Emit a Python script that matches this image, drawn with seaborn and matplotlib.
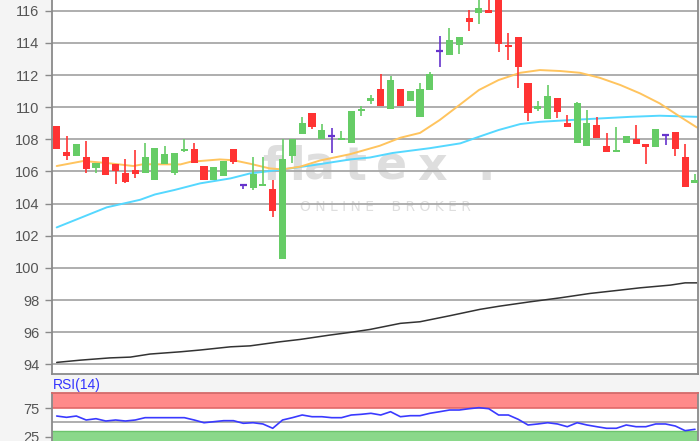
import numpy as np
import pandas as pd
import matplotlib
matplotlib.use("Agg")
import matplotlib.pyplot as plt
import seaborn as sns

sns.set_style("white")
plt.rcParams['font.family'] = ['Liberation Sans', 'DejaVu Sans']

# ------------------------------------------------------------------
# data (66 daily candles)
# ------------------------------------------------------------------
opens = [108.8, 107.22, 106.98, 106.9, 106.23, 106.9, 106.45, 105.9, 106.09, 105.9,
         105.5, 106.46, 105.9, 107.3, 107.4, 106.35, 105.5, 105.7, 107.4, 105.15,
         105.0, 105.1, 104.89, 100.53, 106.96, 108.33, 109.65, 108.0, 108.2, 107.96,
         107.75, 109.76, 110.4, 111.11, 109.86, 111.11, 110.4, 109.37, 111.07, 113.51,
         113.24, 113.87, 115.53, 115.88, 116.04, 117.0, 113.87, 114.34, 111.52, 109.86,
         109.24, 110.55, 109.03, 107.75, 107.6, 108.87, 107.58, 107.23, 107.75, 108.0,
         107.71, 107.54, 108.27, 108.43, 106.9, 105.3]
highs = [108.8, 108.2, 107.7, 107.9, 106.5, 106.9, 106.45, 106.75, 107.33, 107.79,
         107.47, 107.58, 107.13, 108.0, 107.79, 106.35, 106.25, 106.67, 107.4, 105.15,
         106.9, 106.9, 105.46, 108.0, 108.0, 109.37, 109.65, 108.95, 108.68, 108.53,
         109.76, 110.07, 110.75, 112.06, 111.94, 111.11, 111.02, 111.52, 112.2, 114.43,
         114.9, 114.38, 116.04, 116.9, 116.9, 117.0, 114.6, 114.34, 111.52, 110.4,
         111.38, 110.55, 109.51, 110.3, 109.82, 109.4, 108.37, 108.78, 108.2, 108.89,
         107.71, 108.62, 108.27, 108.43, 107.71, 105.84]
lows = [107.4, 106.7, 106.98, 105.9, 105.9, 105.75, 105.2, 105.26, 105.57, 105.9,
        105.5, 106.46, 105.75, 107.23, 106.55, 105.5, 105.5, 105.7, 106.46, 104.89,
        104.84, 105.1, 103.14, 100.53, 106.55, 108.33, 108.62, 108.0, 107.13, 107.96,
        107.75, 109.45, 110.19, 110.07, 109.86, 110.07, 110.4, 109.37, 111.07, 112.52,
        113.24, 113.3, 114.75, 115.2, 115.84, 113.45, 112.93, 111.17, 109.16, 109.78,
        109.24, 109.3, 108.74, 107.75, 107.6, 108.06, 107.19, 107.2, 107.75, 107.69,
        106.46, 107.54, 107.65, 106.96, 105.05, 105.3]
closes = [107.4, 106.98, 107.7, 106.15, 106.5, 105.8, 106.03, 105.36, 105.84, 106.9,
          107.47, 107.08, 107.13, 107.37, 106.55, 105.5, 106.25, 106.67, 106.6, 105.15,
          105.84, 105.15, 103.55, 106.75, 108.0, 109.0, 108.78, 108.58, 108.2, 108.06,
          109.76, 109.86, 110.55, 110.07, 111.69, 110.07, 111.02, 111.11, 112.06, 113.51,
          114.18, 114.38, 115.32, 116.2, 115.84, 113.96, 113.72, 112.51, 109.62, 110.07,
          110.69, 109.71, 108.74, 110.24, 109.03, 108.06, 107.19, 107.33, 108.2, 107.69,
          107.54, 108.62, 108.27, 107.37, 105.05, 105.46]

# moving averages, read at (candle index, value) points
ma_fast_x = [0, 2.7, 3.7, 5.5, 7.8, 8.8, 12.6, 13.6, 16.6, 18, 19.7, 21.7, 23, 24.8,
             26.8, 29.9, 32.9, 35, 37, 39, 41, 43, 45, 47.2, 49.2, 51.3, 53.3, 55.3,
             57.4, 59.4, 61.4, 63.5, 65.2]
ma_fast = [106.34, 106.65, 106.6, 106.5, 106.34, 106.45, 106.44, 106.6, 106.75, 106.7,
           106.48, 106.19, 106.13, 106.3, 106.68, 107.08, 107.6, 108.1, 108.4, 109.2,
           110.13, 111.07, 111.69, 112.14, 112.31, 112.25, 112.14, 111.83, 111.38,
           110.86, 110.24, 109.4, 108.74]
ma_mid_x = [0, 5.1, 8.5, 10, 12, 14.6, 17.7, 19.7, 22.7, 26.2, 29.9, 31.9, 34.2, 38,
            41.1, 43, 45, 47.2, 49.2, 52.3, 55.3, 58.4, 61.4, 65.2]
ma_mid = [102.52, 103.77, 104.24, 104.57, 104.85, 105.26, 105.57, 105.88, 106.1, 106.4,
          106.75, 106.87, 107.15, 107.45, 107.75, 108.16, 108.58, 108.95, 109.09,
          109.2, 109.3, 109.4, 109.47, 109.4]
ma_slow_x = [0, 2.4, 5.4, 7.5, 9.5, 12.6, 14.6, 17.7, 19.7, 22.7, 24.8, 27.8, 29.9,
             31.9, 35, 37, 40, 43.1, 45.1, 48.2, 51.3, 54.3, 57.4, 59.4, 62.5, 64, 65.2]
ma_slow = [94.12, 94.26, 94.4, 94.45, 94.64, 94.78, 94.89, 95.09, 95.15, 95.4, 95.55,
           95.82, 95.99, 96.17, 96.55, 96.65, 97.02, 97.42, 97.62, 97.89, 98.14, 98.41,
           98.62, 98.76, 98.93, 99.07, 99.07]

rsi = [61.4, 59.1, 61.4, 54.4, 56.7, 52.6, 54.4, 52.6, 54.4, 58.5,
       58.5, 58.5, 58.5, 58.5, 54.4, 49.6, 51.4, 53.2, 53.2, 48.6,
       49.6, 47.4, 39.8, 54.4, 58.5, 63.2, 60.2, 60.2, 58.5, 58.5,
       63.2, 64.4, 66.2, 63.2, 69.0, 60.2, 62.0, 62.0, 66.2, 69.0,
       72.0, 72.0, 74.3, 76.1, 74.3, 63.2, 63.2, 55.6, 45.6, 47.4,
       49.6, 47.4, 42.6, 49.6, 45.6, 42.6, 39.8, 39.8, 45.6, 42.6,
       42.6, 47.4, 47.4, 43.8, 35.6, 38.0]

price_ticks = [94, 96, 98, 100, 102, 104, 106, 108, 110, 112, 114, 116]
rsi_ticks = [25, 75]
rsi_upper = 75
rsi_lower = 35

logo_letters = ['f', 'l', 'a', 't', 'e', 'x', '.']

# ------------------------------------------------------------------
UP, DOWN, DOJI = '#66cc66', '#ff3333', '#6633cc'
GRID = '#a8a8a8'
FRAME = '#8a8a8a'
TICKC = '#555555'
WM = '#dedede'

fig = plt.figure(figsize=(7, 4.41), dpi=100)
fig.patch.set_facecolor('#f4f4f4')

W, H = 700, 441
pos_main = [51.7 / W, (H - 374.3) / H, (698.3 - 51.7) / W, 374.3 / H]

# white background axes that carries the watermark (drawn under everything)
bg = fig.add_axes(pos_main, zorder=-1)
bg.set_facecolor('white')
bg.set_xticks([])
bg.set_yticks([])
for s in bg.spines.values():
    s.set_visible(False)

ax = fig.add_axes(pos_main)
ax_rsi = fig.add_axes([51.7 / W, 0, (698.3 - 51.7) / W, (H - 392.7) / H])

df = pd.DataFrame({'o': opens, 'h': highs, 'l': lows, 'c': closes})
df['i'] = np.arange(len(df))

# watermark, letter by letter (pixel positions of the logo)
logo_px = [272, 297, 320, 355, 392, 432, 486]
for ch, px in zip(logo_letters, logo_px):
    bg.text(px / W, (H - 180) / H, ch, transform=fig.transFigure, ha='center',
            va='baseline', fontsize=33, fontweight='bold', color=WM, family='DejaVu Sans')
bg.text(385 / W, (H - 207) / H, 'O N L I N E    B R O K E R', transform=fig.transFigure,
        ha='center', va='center', fontsize=10, color=WM, family='DejaVu Sans')

for y in price_ticks:
    ax.axhline(y, color=GRID, lw=1.3, zorder=0)

# moving averages
sns.lineplot(x=ma_slow_x, y=ma_slow, ax=ax, color='#333333', lw=1.1, zorder=2)
sns.lineplot(x=ma_mid_x, y=ma_mid, ax=ax, color='#55d8ff', lw=1.4, zorder=2)
sns.lineplot(x=ma_fast_x, y=ma_fast, ax=ax, color='#ffc45e', lw=1.4, zorder=2)

# candles
for _, r in df.iterrows():
    if r.c > r.o:
        col = UP
    elif r.c < r.o:
        col = DOWN
    else:
        col = DOJI
    ax.vlines(r.i, r.l, r.h, color=col, lw=1.2, zorder=3)
    if col == DOJI:
        ax.hlines(r.o, r.i - 0.38, r.i + 0.38, color=col, lw=1.6, zorder=4)
    else:
        lo = min(r.o, r.c)
        hgt = max(abs(r.c - r.o), 0.12)
        ax.bar(r.i, hgt, bottom=lo, width=0.72, color=col, lw=0, zorder=4)

ax.set_xlim(-0.51, 65.34)
ax.set_ylim(93.38, 116.67)
ax.set_yticks(price_ticks)
ax.set_xticks([])
ax.tick_params(axis='y', direction='out', length=5, width=1, color=FRAME,
               labelsize=10.5, labelcolor=TICKC, pad=4, left=True)
ax.set_facecolor('none')
for s in ['left', 'bottom', 'right']:
    ax.spines[s].set_color(FRAME)
    ax.spines[s].set_linewidth(1.3)
ax.spines['top'].set_visible(False)

# RSI panel
ax_rsi.set_facecolor('white')
ax_rsi.axhspan(rsi_upper, 110, color='#ff8a8a', lw=0, zorder=0)
ax_rsi.axhline(rsi_upper, color='#e26868', lw=1.2, zorder=1)
ax_rsi.axhspan(0, rsi_lower, color='#8ad88a', lw=0, zorder=0)
ax_rsi.axhline(rsi_lower, color='#6cc46c', lw=1.0, zorder=1)
ax_rsi.axhline(50, color=GRID, lw=1.3, zorder=1)
sns.lineplot(x=np.arange(len(rsi)), y=rsi, ax=ax_rsi, color='#3a3aff', lw=1.2, zorder=3)
ax_rsi.set_xlim(-0.51, 65.34)
ax_rsi.set_ylim(17.4, 102.5)
ax_rsi.set_yticks(rsi_ticks)
ax_rsi.set_xticks([])
ax_rsi.tick_params(axis='y', direction='out', length=5, width=1, color=FRAME,
                   labelsize=10.5, labelcolor=TICKC, pad=4, left=True)
for s in ['left', 'right', 'top']:
    ax_rsi.spines[s].set_color('#d46a6a' if s == 'top' else FRAME)
    ax_rsi.spines[s].set_linewidth(1.3)
ax_rsi.spines['bottom'].set_visible(False)

fig.text(53 / W, (H - 385) / H, 'RSI(14)', color='#3333ff', fontsize=10, va='center', ha='left')

fig.savefig('out.png', dpi=100, facecolor=fig.get_facecolor())
